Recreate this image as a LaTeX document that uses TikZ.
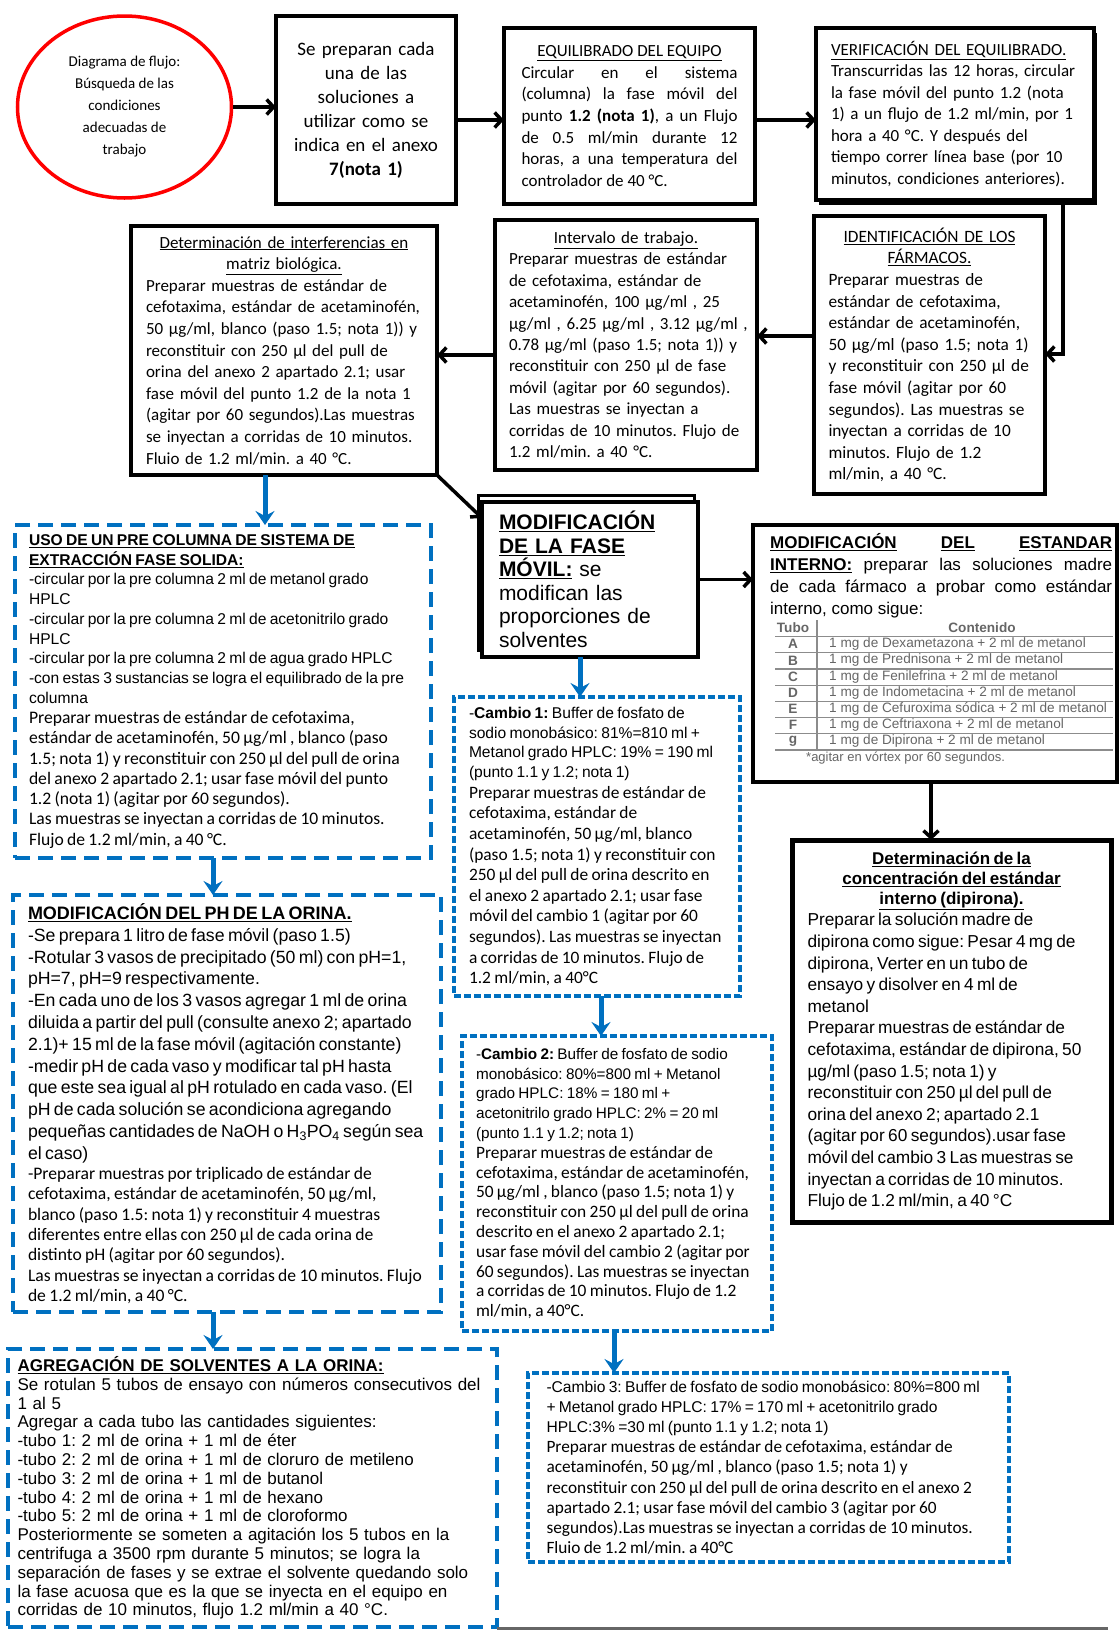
\documentclass[tikz,border=0pt]{standalone}
\usepackage{fontspec}
\setmainfont{Carlito}
\newfontfamily\arialf{Liberation Sans}
\usetikzlibrary{arrows.meta,shapes.geometric}
\definecolor{dblue}{RGB}{0,112,192}
\setlength{\parindent}{0pt}
\frenchspacing
\hyphenpenalty=10000
\exhyphenpenalty=10000
\newcommand{\fs}[2]{\fontsize{#1}{#2}\selectfont}
\tikzset{
  blkbox/.style={draw=black, line width=4pt, fill=white, inner sep=0pt, outer sep=0pt},
  longdash/.style={draw=dblue, line width=4pt, dash pattern=on 15pt off 8pt, fill=white, inner sep=0pt, outer sep=0pt},
  shortdash/.style={draw=dblue, line width=4pt, dash pattern=on 7pt off 3pt, fill=white, inner sep=0pt, outer sep=0pt},
  blk/.style={draw=black, line width=3.5pt, -{Straight Barb[length=7pt,width=15pt]}},
  blu/.style={draw=dblue, line width=5pt, -{Stealth[length=14pt,width=19pt,inset=5pt]}},
  tabtxt/.style={inner sep=0pt, text=black!60, font=\arialf\fs{13.6}{15}},
  tabline/.style={draw=black!45, line width=1.2pt},
}
\begin{document}
\begin{tikzpicture}[x=1pt,y=-1pt]
\path[use as bounding box, fill=white] (0,0) rectangle (1119,1631);

% ---------- top row ----------
\node[ellipse, draw=red, line width=3.5pt, minimum width=214pt, minimum height=182pt, inner sep=0pt, align=center, font=\fs{15}{22}] (ell) at (124.5,107)
 {Diagrama de flujo:\\Búsqueda de las\\condiciones\\adecuadas de\\trabajo};

\node[blkbox, minimum width=180pt, minimum height=188pt, text width=172pt, align=center, font=\fs{19}{24}] (b2) at (366,110)
 {Se preparan cada\\una de las\\soluciones a\\utilizar como se\\indica  en el anexo\\\textbf{7(nota 1)}};

\node[blkbox, minimum width=251pt, minimum height=176pt, text width=216pt, align=justify, font=\fs{17}{21.7}] (b3) at (629.5,116)
 {{\centering\underline{EQUILIBRADO DEL EQUIPO}\par}Circular en el sistema\linebreak (columna) la fase móvil del\linebreak punto \textbf{1.2 (nota 1)}, a un Flujo\linebreak de 0.5 ml/min durante 12\linebreak horas, a una temperatura del\linebreak controlador de 40 °C.};

\fill[black] (819,33) rectangle (1097,205);
\node[blkbox, minimum width=278pt, minimum height=172pt, text width=248pt, align=left, font=\fs{17}{21.5}] (b4) at (955,114)
 {\underline{VERIFICACIÓN DEL EQUILIBRADO.}\\Transcurridas las 12 horas, circular\\la fase móvil del punto 1.2 (nota\\1) a un flujo de 1.2 ml/min, por 1\\hora a 40 °C. Y después del\\tiempo correr línea base (por 10\\minutos, condiciones anteriores).};

% ---------- second row ----------
\node[blkbox, minimum width=231pt, minimum height=278pt, text width=202pt, align=left, font=\fs{17.3}{21.6}] (b5) at (929.5,355)
 {{\centering\underline{IDENTIFICACIÓN DE LOS}\\\underline{FÁRMACOS.}\par}Preparar muestras de\\estándar de cefotaxima,\\estándar de acetaminofén,\\50 µg/ml (paso 1.5; nota 1)\\y reconstituir con 250 µl de\\fase móvil (agitar por 60\\segundos). Las muestras se\\inyectan a corridas de 10\\minutos. Flujo de 1.2\\ml/min, a 40 °C.};

\node[blkbox, minimum width=262pt, minimum height=250pt, text width=234pt, align=left, font=\fs{17}{21.4}] (b6) at (626,345)
 {{\centering\underline{Intervalo de trabajo.}\par}Preparar muestras de estándar\\de cefotaxima, estándar de\\acetaminofén, 100 µg/ml , 25\\\mbox{µg/ml , 6.25 µg/ml , 3.12 µg/ml ,}\\0.78 µg/ml (paso 1.5; nota 1)) y\\reconstituir con 250 µl de fase\\móvil (agitar por 60 segundos).\\Las muestras se inyectan a\\corridas de 10 minutos. Flujo de\\1.2 ml/min. a 40 °C.};

\node[blkbox, minimum width=306pt, minimum height=249pt, text width=276pt, align=left, font=\fs{17}{21.6}] (b7) at (284,350.5)
 {{\centering\underline{Determinación de interferencias en}\\\underline{matriz biológica.}\par}Preparar muestras de estándar de\\cefotaxima, estándar de acetaminofén,\\50 µg/ml, blanco (paso 1.5; nota 1)) y\\reconstituir con 250 µl del pull de\\orina del anexo 2 apartado 2.1; usar\\fase móvil del punto 1.2  de la nota 1\\(agitar por 60 segundos).Las muestras\\se inyectan a corridas de 10 minutos.\\Fluio de 1.2 ml/min. a 40 °C.};

% ---------- modificacion fase movil ----------
\draw[line width=3pt, fill=white] (478,495) rectangle (694,650);
\node[blkbox, minimum width=216pt, minimum height=155pt, text width=182pt, align=left, font=\arialf\fs{21}{23.5}] (mf) at (590,579.5)
 {\textbf{\underline{MODIFICACIÓN}}\\\textbf{\underline{DE LA FASE}}\\\textbf{\underline{MÓVIL:}} se\\modifican las\\proporciones de\\solventes};

% ---------- modificacion estandar interno ----------
\node[blkbox, minimum width=364pt, minimum height=257pt] (me) at (935,653.5) {};
\node[inner sep=0pt, anchor=north west, text width=342pt, align=justify, font=\arialf\fs{17}{21.8}] (metxt) at (770,533.5)
 {\textbf{\underline{MODIFICACIÓN}} \textbf{\underline{DEL}} \textbf{\underline{ESTANDAR}}\linebreak \textbf{\underline{INTERNO:}} preparar las soluciones madre\linebreak de cada fármaco a probar como estándar\linebreak interno, como sigue:};
\node[tabtxt, font=\arialf\bfseries\fs{13.6}{15}] (th1) at (793,628) {Tubo};
\node[tabtxt, font=\arialf\bfseries\fs{13.6}{15}] (th2) at (982,628) {Contenido};
\draw[tabline, line width=1.6pt] (775,636.5) -- (1113,636.5);
\draw[tabline] (817,620) -- (817,750);
\foreach \l/\t [count=\i] in {A/Dexametazona, B/Prednisona, C/Fenilefrina, D/Indometacina, E/Cefuroxima sódica, F/Ceftriaxona, g/Dipirona} {
  \node[tabtxt, font=\arialf\bfseries\fs{13.6}{15}] (tl\i) at (793,628+16.2*\i) {\l};
  \node[tabtxt, anchor=west] (tc\i) at (829,628+16.2*\i) {1 mg de \t{} + 2 ml de metanol};
  \draw[tabline] (775,636.5+16.2*\i) -- (1113,636.5+16.2*\i);
}
\node[tabtxt, anchor=west, font=\arialf\fs{13}{14}] (tfn) at (806,758) {*agitar en vórtex por 60 segundos.};

% ---------- determinacion concentracion ----------
\node[blkbox, line width=5pt, minimum width=319pt, minimum height=382pt, text width=288pt, align=left] (dc) at (951.5,1031)
 {{\arialf\fs{17}{20}\centering\textbf{\underline{Determinación de la}}\\\textbf{\underline{concentración del estándar}}\\\textbf{\underline{interno (dipirona).}}\par}%
  {\arialf\fs{17.3}{21.6}Preparar la solución madre de\\dipirona como sigue: Pesar 4 mg de\\dipirona, Verter en un tubo de\\ensayo y disolver en 4 ml de\\metanol\\Preparar muestras de estándar de\\cefotaxima, estándar de dipirona, 50\\µg/ml (paso 1.5; nota 1)  y\\reconstituir con 250 µl del pull de\\orina del anexo 2; apartado 2.1\\(agitar por 60 segundos).usar fase\\móvil del cambio 3 Las muestras se\\inyectan a corridas de 10 minutos.\\Flujo de 1.2 ml/min, a 40 °C\par}};

% ---------- cambios ----------
\node[shortdash, minimum width=286pt, minimum height=299pt, text width=256pt, align=left] (c1) at (597,846.5)
 {{\arialf\fs{15.6}{19.8}-\textbf{Cambio 1:} Buffer de fosfato de\\sodio monobásico: 81\%=810 ml +\\Metanol grado HPLC: 19\% = 190 ml\\(punto 1.1 y 1.2; nota 1)\par}%
  {\fs{17.4}{20.6}Preparar muestras de estándar de\\cefotaxima, estándar de\\acetaminofén, 50 µg/ml, blanco\\(paso 1.5; nota 1) y reconstituir con\\250 µl del pull de orina descrito en\\el anexo 2 apartado 2.1; usar fase\\móvil del cambio 1 (agitar por 60\\segundos). Las muestras se inyectan\\a corridas de 10 minutos. Flujo de\\1.2 ml/min, a 40°C\par}};

\node[shortdash, minimum width=310pt, minimum height=295pt, text width=282pt, align=left] (c2) at (617,1183.5)
 {{\arialf\fs{15.3}{19.8}-\textbf{Cambio 2:} Buffer de fosfato de sodio\\monobásico: 80\%=800 ml + Metanol\\grado HPLC: 18\% = 180 ml +\\acetonitrilo grado HPLC: 2\% = 20 ml\\(punto 1.1 y 1.2; nota 1)\par}%
  {\fs{17.4}{19.8}Preparar muestras de estándar de\\cefotaxima, estándar de acetaminofén,\\50 µg/ml , blanco (paso 1.5; nota 1) y\\reconstituir con 250 µl del pull de orina\\descrito en el anexo 2 apartado 2.1;\\usar fase móvil del cambio 2 (agitar por\\60 segundos). Las muestras se inyectan\\a corridas de 10 minutos. Flujo de 1.2\\ml/min, a 40°C.\par}};

\node[shortdash, minimum width=481pt, minimum height=189pt, text width=444pt, align=left] (c3) at (768.5,1467.5)
 {{\arialf\fs{15.6}{20.2}-Cambio 3: Buffer de fosfato de sodio monobásico: 80\%=800 ml\\+ Metanol grado HPLC: 17\% = 170 ml +  acetonitrilo grado\\HPLC:3\% =30 ml (punto 1.1 y 1.2; nota 1)\par}%
  {\fs{17.3}{20.2}Preparar muestras de estándar de cefotaxima, estándar de\\acetaminofén, 50 µg/ml , blanco (paso 1.5; nota 1) y\\reconstituir con 250 µl del pull de orina descrito en el anexo 2\\apartado 2.1; usar fase móvil del cambio 3 (agitar por 60\\segundos).Las muestras se inyectan a corridas de 10 minutos.\\Fluio de 1.2 ml/min. a 40°C\par}};

% ---------- left column ----------
\node[longdash, minimum width=416pt, minimum height=333pt, text width=388pt, align=left] (uso) at (223,691.5)
 {{\arialf\fs{15.6}{19.7}\textbf{\underline{USO DE UN PRE COLUMNA DE SISTEMA DE}}\\\textbf{\underline{EXTRACCIÓN FASE SOLIDA:}}\\-circular por la pre columna 2 ml de metanol grado\\HPLC\\-circular por la pre columna 2 ml de acetonitrilo grado\\HPLC\\-circular por la pre columna 2 ml de agua grado HPLC\\-con estas 3 sustancias se logra el equilibrado de la pre\\columna\par}%
  {\fs{17.6}{20.3}Preparar muestras de estándar de cefotaxima,\\estándar de acetaminofén, 50 µg/ml , blanco (paso\\1.5; nota 1) y reconstituir con 250 µl del pull de orina\\del anexo 2 apartado 2.1; usar fase móvil del punto\\1.2 (nota 1) (agitar por 60 segundos).\\Las muestras se inyectan a corridas de 10 minutos.\\Flujo de 1.2 ml/min, a 40 °C.\par}};

\node[longdash, minimum width=428pt, minimum height=417pt, text width=398pt, align=left] (ph) at (227,1103.5)
 {{\arialf\fs{17.7}{21.8}{\fs{18}{21.8}\textbf{\underline{MODIFICACIÓN DEL PH DE LA ORINA.}}}\\-Se prepara 1 litro de fase móvil (paso 1.5)\\-Rotular 3 vasos de precipitado (50 ml) con pH=1,\\pH=7, pH=9 respectivamente.\\-En cada uno de los 3 vasos agregar 1 ml de orina\\diluida a partir del pull (consulte anexo 2; apartado\\2.1)+ 15 ml de la fase móvil (agitación constante)\\-medir pH de cada vaso y modificar tal pH hasta\\que este sea igual al pH rotulado en cada vaso. (El\\pH de cada solución se acondiciona agregando\\pequeñas cantidades de NaOH o H\textsubscript{3}PO\textsubscript{4} según sea\\el caso)\par}%
  {\fs{17.6}{20.3}-Preparar muestras por triplicado de estándar de\\cefotaxima, estándar de acetaminofén, 50 µg/ml,\\blanco (paso 1.5: nota 1) y reconstituir 4 muestras\\diferentes entre ellas con 250 µl de cada orina de\\distinto pH (agitar por 60 segundos).\\Las muestras se inyectan a corridas de 10 minutos. Flujo\\de 1.2 ml/min, a 40 °C.\par}};

\node[longdash, minimum width=489pt, minimum height=278pt, text width=470pt, align=left, font=\arialf\fs{17}{18.8}] (ag) at (252.5,1488)
 {\textbf{\underline{AGREGACIÓN DE SOLVENTES A LA ORINA:}}\\Se rotulan 5 tubos de ensayo con números consecutivos del\\1 al 5\\Agregar a cada tubo las cantidades siguientes:\\-tubo 1: 2 ml de orina + 1 ml de éter\\-tubo 2: 2 ml de orina + 1 ml de cloruro de metileno\\-tubo 3: 2 ml de orina + 1 ml de butanol\\-tubo 4: 2 ml de orina + 1 ml de hexano\\-tubo 5: 2 ml de orina + 1 ml de cloroformo\\Posteriormente se someten a agitación los 5 tubos en la\\centrifuga a 3500 rpm durante 5 minutos; se logra la\\separación de fases y se extrae el solvente quedando solo\\la fase acuosa que es la que se inyecta en el equipo en\\corridas de 10 minutos, flujo 1.2 ml/min a 40 °C.};

\draw[line width=3pt, black!60] (ag.south east |- 0,1628) -- (1108,1628);

% ---------- connectors ----------
\draw[blk] (ell.east) -- (ell.east -| b2.west);
\draw[blk] (b2.east |- 0,120) -- (b3.west |- 0,120);
\draw[blk] (b3.east |- 0,120) -- (b4.west |- 0,120);
\draw[blk] (b4.south -| 1063,0) |- (b5.east |- 0,354);
\draw[blk] (b5.west |- 0,336) -- (b6.east |- 0,336);
\draw[blk] (b6.west |- 0,355) -- (b7.east |- 0,355);
\draw[blk] (b7.south east) -- ([yshift=-16pt]mf.north west);
\draw[blk] (mf.east) -- (mf.east -| me.west);
\draw[blk] (me.south -| 931,0) -- (dc.north -| 931,0);

\draw[blu] (b7.south -| 265,0) -- (uso.north -| 265,0);
\draw[blu] (uso.south -| 213,0) -- (ph.north -| 213,0);
\draw[blu] (ph.south -| 213,0) -- (ag.north -| 213,0);
\draw[blu] (mf.south -| 580,0) -- (c1.north -| 580,0);
\draw[blu] (c1.south -| 601,0) -- (c2.north -| 601,0);
\draw[blu] (c2.south -| 614,0) -- (c3.north -| 614,0);
\end{tikzpicture}
\end{document}
